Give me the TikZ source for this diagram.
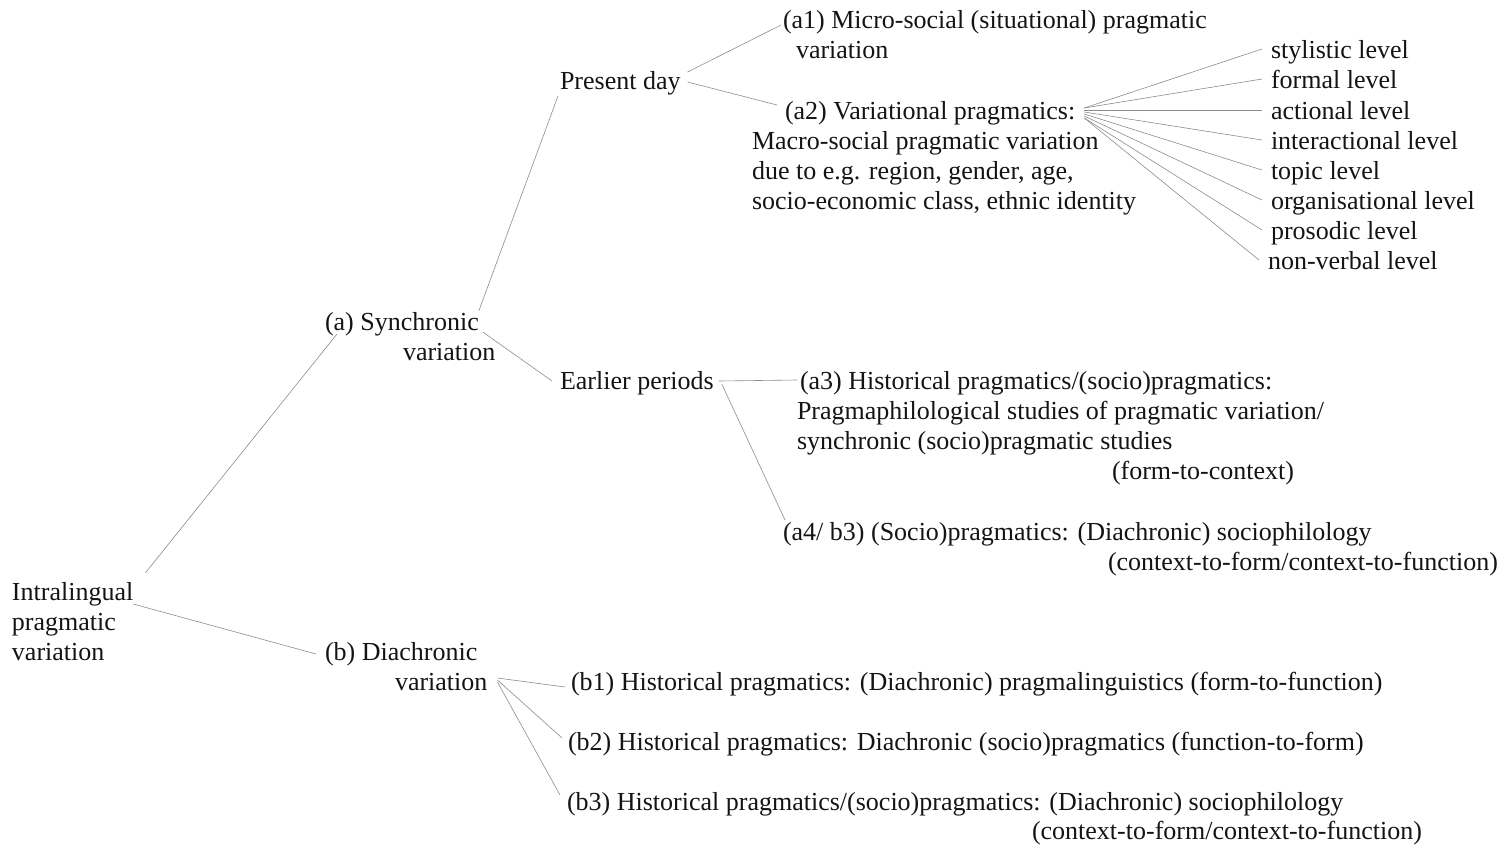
\documentclass[tikz,border=0pt]{standalone}
\usepackage{fontspec}
\setmainfont{Liberation Serif}
\begin{document}
\begin{tikzpicture}[x=1pt,y=-1pt,
  txt/.style={anchor=base west,inner sep=0pt,outer sep=0pt,font=\fontsize{26}{30}\selectfont,text=black!92},
  conn/.style={draw=black!45,line width=0.6pt}]
\useasboundingbox (0,0) rectangle (1504,849);
% root
\node[txt] (in1) at (12,600) {Intralingual};
\node[txt] (in2) at (12,630) {pragmatic};
\node[txt] (in3) at (12,660) {variation};
% level 1
\node[txt] (sy1) at (325,330) {(a) Synchronic};
\node[txt] (sy2) at (403,360) {variation};
\node[txt] (di1) at (325,660) {(b) Diachronic};
\node[txt] (di2) at (395,690) {variation};
% level 2
\node[txt] (pr) at (560,89) {Present day};
\node[txt] (ea) at (560,389) {Earlier periods};
% a1, a2
\node[txt] (a1a) at (783,28) {(a1) Micro-social (situational) pragmatic};
\node[txt] (a1b) at (796,58) {variation};
\node[txt] (a2a) at (785,119) {(a2) Variational pragmatics:};
\node[txt] (a2b) at (752,149) {Macro-social pragmatic variation};
\node[txt] (a2c) at (752,179) {due to e.g. region, gender, age,};
\node[txt] (a2d) at (752,209) {socio-economic class, ethnic identity};
% levels
\node[txt] (l1) at (1271,58) {stylistic level};
\node[txt] (l2) at (1271,88) {formal level};
\node[txt] (l3) at (1271,119) {actional level};
\node[txt] (l4) at (1271,149) {interactional level};
\node[txt] (l5) at (1271,179) {topic level};
\node[txt] (l6) at (1271,209) {organisational level};
\node[txt] (l7) at (1271,239) {prosodic level};
\node[txt] (l8) at (1268,269) {non-verbal level};
% a3, a4
\node[txt] (a3a) at (800,389) {(a3) Historical pragmatics/(socio)pragmatics:};
\node[txt] (a3b) at (797,419) {Pragmaphilological studies of pragmatic variation/};
\node[txt] (a3c) at (797,449) {synchronic (socio)pragmatic studies};
\node[txt] (a3d) at (1112,479) {(form-to-context)};
\node[txt] (a4a) at (783,540) {(a4/ b3) (Socio)pragmatics: (Diachronic) sociophilology};
\node[txt] (a4b) at (1108,570) {(context-to-form/context-to-function)};
% b1-b3
\node[txt] (b1) at (571,690) {(b1) Historical pragmatics: (Diachronic) pragmalinguistics (form-to-function)};
\node[txt] (b2) at (568,750) {(b2) Historical pragmatics: Diachronic (socio)pragmatics (function-to-form)};
\node[txt] (b3a) at (567,810) {(b3) Historical pragmatics/(socio)pragmatics: (Diachronic) sociophilology};
\node[txt] (b3b) at (1032,839) {(context-to-form/context-to-function)};
% connectors
\draw[conn] ([xshift=12pt,yshift=27pt]in1.base east) -- ([xshift=12pt,yshift=-4pt]sy1.base west);
\draw[conn] ([xshift=0pt,yshift=-4pt]in1.base east) -- ([xshift=-9pt,yshift=6pt]di1.base west);
\draw[conn] ([xshift=0pt,yshift=19pt]sy1.base east) -- ([xshift=-2pt,yshift=-7pt]pr.base west);
\draw[conn] ([xshift=4pt,yshift=-2pt]sy1.base east) -- ([xshift=-8pt,yshift=8pt]ea.base west);
\draw[conn] ([xshift=7pt,yshift=17pt]pr.base east) -- ([xshift=-2pt,yshift=3pt]a1a.base west);
\draw[conn] ([xshift=7pt,yshift=7pt]pr.base east) -- ([xshift=-8pt,yshift=14pt]a2a.base west);
\foreach \n/\dy in {l1/11,l2/11,l3/9,l4/7,l5/5,l6/3,l7/1,l8/1}
  \draw[conn] ([xshift=9pt,yshift=\dy pt]a2a.base east) -- ([xshift=-9pt,yshift=9pt]\n.base west);
\draw[conn] ([xshift=5pt,yshift=8pt]ea.base east) -- ([xshift=-3pt,yshift=9pt]a3a.base west);
\draw[conn] ([xshift=8pt,yshift=5pt]ea.base east) -- ([xshift=2pt,yshift=20pt]a4a.base west);
\draw[conn] ([xshift=10pt,yshift=12pt]di2.base east) -- ([xshift=-6pt,yshift=3pt]b1.base west);
\draw[conn] ([xshift=10pt,yshift=10pt]di2.base east) -- ([xshift=-6pt,yshift=12pt]b2.base west);
\draw[conn] ([xshift=10pt,yshift=8pt]di2.base east) -- ([xshift=-7pt,yshift=15pt]b3a.base west);
\end{tikzpicture}
\end{document}
